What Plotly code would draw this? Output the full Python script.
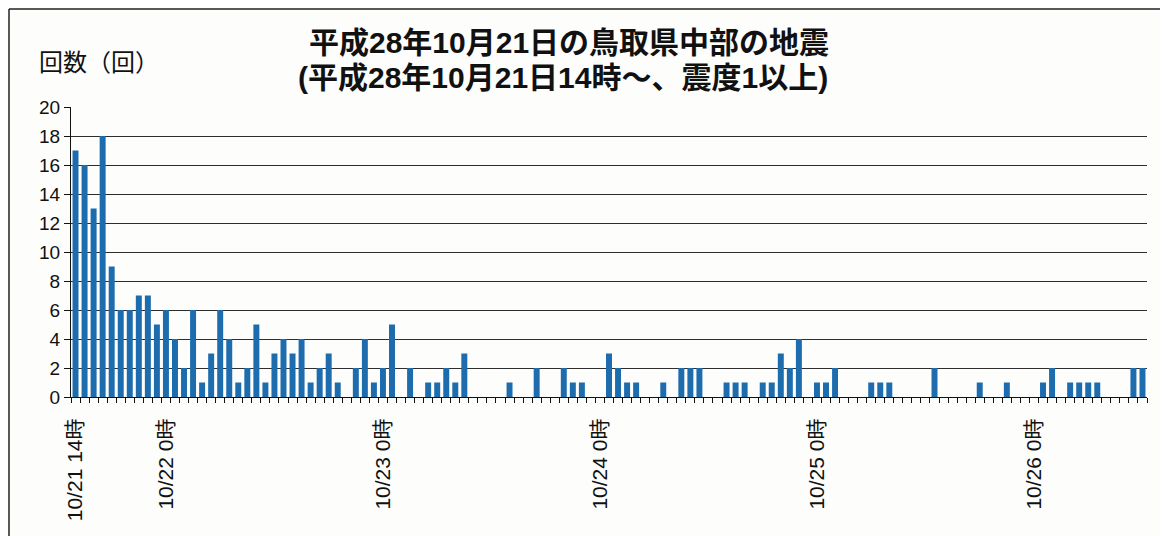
import plotly.graph_objects as go

# hourly counts from 10/21 14時 (index 0) to 10/26 12時 (index 118)
counts = [
    17, 16, 13, 18, 9, 6, 6, 7, 7, 5,          # 10/21 14-23時
    6, 4, 2, 6, 1, 3, 6, 4, 1, 2,              # 10/22 0-9
    5, 1, 3, 4, 3, 4, 1, 2, 3, 1,              # 10/22 10-19
    0, 2, 4, 1,                                # 10/22 20-23
    2, 5, 0, 2, 0, 1, 1, 2, 1, 3,              # 10/23 0-9
    0, 0, 0, 0, 1, 0, 0, 2, 0, 0,              # 10/23 10-19
    2, 1, 1, 0,                                # 10/23 20-23
    0, 3, 2, 1, 1, 0, 0, 1, 0, 2,              # 10/24 0-9
    2, 2, 0, 0, 1, 1, 1, 0, 1, 1,              # 10/24 10-19
    3, 2, 4, 0,                                # 10/24 20-23
    1, 1, 2, 0, 0, 0, 1, 1, 1, 0,              # 10/25 0-9
    0, 0, 0, 2, 0, 0, 0, 0, 1, 0,              # 10/25 10-19
    0, 1, 0, 0,                                # 10/25 20-23
    0, 1, 2, 0, 1, 1, 1, 1, 0, 0,              # 10/26 0-9
    0, 2, 2,                                   # 10/26 10-12
]
label_positions = [0, 10, 34, 58, 82, 106]
label_texts = ["10/21 14時", "10/22 0時", "10/23 0時", "10/24 0時", "10/25 0時", "10/26 0時"]
y_ticks = list(range(0, 21, 2))

title_line1 = "平成28年10月21日の鳥取県中部の地震"
title_line2 = "(平成28年10月21日14時～、震度1以上)"
y_title = "回数（回）"

hours = list(range(len(counts)))

FONT = "Liberation Sans, Noto Sans CJK JP, sans-serif"

# page body offset (default 8px margin around the plot div)
OFF = 8
W, H = 1168, 536
L, R, T, B = 71 - OFF, W - (1147 - OFF), 107 - OFF, H - (397 - OFF)
PW, PH = W - L - R, H - T - B


def px(sx):
    return (sx - OFF - L) / PW


def py(sy):
    return (H - B - (sy - OFF)) / PH


fig = go.Figure()
fig.add_trace(go.Bar(
    x=hours, y=counts,
    marker=dict(color="#1c6cae", line=dict(width=0)),
    hoverinfo="x+y",
))

fig.update_layout(
    width=W, height=H,
    margin=dict(l=L, r=R, t=T, b=B, pad=0),
    paper_bgcolor="#fdfdfb",
    plot_bgcolor="#fdfdfb",
    bargap=0.34,
    showlegend=False,
    font=dict(family=FONT, color="#111111", size=19),
    xaxis=dict(
        range=[-0.5, len(counts) - 0.5],
        tickmode="array",
        tickvals=label_positions,
        ticktext=label_texts,
        tickangle=-90,
        ticks="",
        showgrid=False,
        showline=True, linecolor="#111111", linewidth=1.2,
        zeroline=False,
        ticklabelstandoff=12,
        tickfont=dict(size=21, family=FONT),
        minor=dict(tick0=-0.5, dtick=1, ticks="outside", ticklen=5,
                   tickcolor="#111111", tickwidth=1, showgrid=False),
    ),
    yaxis=dict(
        range=[0, 20],
        tickmode="array",
        tickvals=y_ticks,
        ticks="outside", ticklen=6, tickcolor="#111111", tickwidth=1,
        showgrid=True, gridcolor="#2e2e2e", gridwidth=1.2,
        showline=True, linecolor="#111111", linewidth=1.2,
        zeroline=False,
        tickfont=dict(size=19, family=FONT),
    ),
    annotations=[
        dict(text="<b>" + title_line1 + "</b>", xref="paper", yref="paper",
             x=px(569), y=py(42),
             xanchor="center", yanchor="middle", showarrow=False,
             font=dict(size=30, family=FONT, color="#111111")),
        dict(text="<b>" + title_line2 + "</b>", xref="paper", yref="paper",
             x=px(563), y=py(78),
             xanchor="center", yanchor="middle", showarrow=False,
             font=dict(size=30, family=FONT, color="#111111")),
        dict(text=y_title, xref="paper", yref="paper",
             x=px(37), y=py(62),
             xanchor="left", yanchor="middle", showarrow=False,
             font=dict(size=24, family=FONT, color="#111111")),
    ],
    shapes=[
        dict(type="line", xref="paper", yref="paper",
             x0=px(9), x1=px(9), y0=py(9), y1=py(560),
             line=dict(color="#222222", width=1.5)),
        dict(type="line", xref="paper", yref="paper",
             x0=px(9), x1=px(1190), y0=py(9), y1=py(9),
             line=dict(color="#222222", width=1.5)),
    ],
)

fig.write_html("out.html")
